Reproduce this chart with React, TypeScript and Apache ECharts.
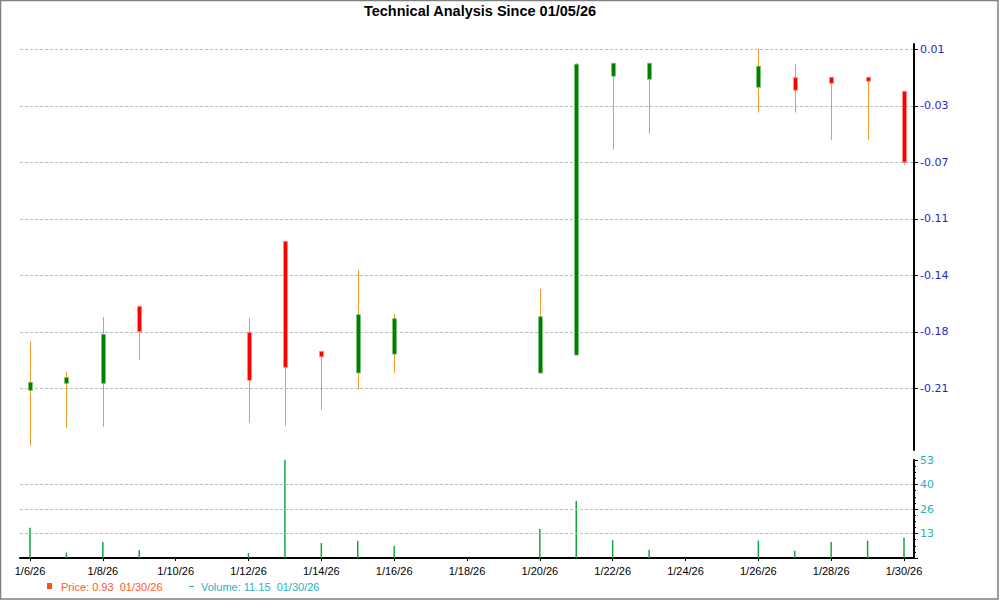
import React, { useEffect, useRef } from "react";
import * as echarts from "echarts";

// ---- data ----
const DATES = [
  "2026-01-06", "2026-01-07", "2026-01-08", "2026-01-09", "2026-01-12", "2026-01-13",
  "2026-01-14", "2026-01-15", "2026-01-16", "2026-01-20", "2026-01-21", "2026-01-22",
  "2026-01-23", "2026-01-26", "2026-01-27", "2026-01-28", "2026-01-29", "2026-01-30",
];
const OPEN = [-0.2113, -0.2068, -0.2068, -0.1568, -0.1737, -0.1146, -0.186, -0.2, -0.1878, -0.2001, -0.1884, -0.0075, -0.0095, -0.0147, -0.0084, -0.0082, -0.0082, -0.0173];
const CLOSE = [-0.2061, -0.2029, -0.175, -0.1733, -0.2048, -0.1964, -0.1895, -0.1622, -0.1648, -0.1635, 0.0003, 0.0009, 0.0009, -0.001, -0.0166, -0.0121, -0.0108, -0.0633];
const LOW = [-0.2473, -0.2356, -0.2349, -0.1917, -0.2323, -0.2343, -0.2239, -0.2109, -0.1999, -0.2001, -0.1884, -0.0552, -0.0448, -0.0311, -0.0311, -0.0487, -0.0487, -0.0649];
const HIGH = [-0.1795, -0.1994, -0.1637, -0.1568, -0.1644, -0.1146, -0.186, -0.1332, -0.1618, -0.1456, 0.0009, 0.0009, 0.0009, 0.01, 0.0005, -0.0082, -0.0082, -0.0173];
const VOLUME = [16.4, 2.9, 8.7, 4.3, 2.7, 53, 8.1, 9.2, 6.5, 15.7, 30.8, 9.7, 4.5, 9.4, 3.9, 8.7, 9.4, 11.15];

const PRICE_TICKS = [0.01, -0.02667, -0.06333, -0.1, -0.13667, -0.17333, -0.21];
const PRICE_TICK_LABELS = ["0.01", "-0.03", "-0.07", "-0.11", "-0.14", "-0.18", "-0.21"];
const VOLUME_TICKS = [13.25, 26.5, 39.75, 53];
const VOLUME_TICK_LABELS = ["13", "26", "40", "53"];
const X_LABEL_DATES = [
  "2026-01-06", "2026-01-08", "2026-01-10", "2026-01-12", "2026-01-14", "2026-01-16",
  "2026-01-18", "2026-01-20", "2026-01-22", "2026-01-24", "2026-01-26", "2026-01-28", "2026-01-30",
];
const TITLE = "Technical Analysis Since 01/05/26";
const PRICE_LEGEND = "Price: 0.93  01/30/26";
const VOLUME_LEGEND = "Volume: 11.15  01/30/26";

const DAY = 86400000;
const toTs = (s: string) => {
  const [y, m, d] = s.split("-").map(Number);
  return Date.UTC(y, m - 1, d);
};
const T0 = toTs(DATES[0]);
const toDay = (s: string) => Math.round((toTs(s) - T0) / DAY);

export default function App() {
  const ref = useRef<HTMLDivElement>(null);
  useEffect(() => {
    if (!ref.current) return;
    const chart = echarts.init(ref.current, null, { renderer: "svg" });
    const xs = DATES.map(toDay);
    const xMin = xs[0] - 0.2746;
    const xMax = xs[xs.length - 1] + 0.2746;
    const xLabelDays = X_LABEL_DATES.map(toDay);
    const candleData = xs.map((x, i) => [x, OPEN[i], CLOSE[i], LOW[i], HIGH[i]]);
    const volData = xs.map((x, i) => [x, VOLUME[i]]);
    const fmtDate = (v: number) => {
      const d = new Date(T0 + Math.round(v) * DAY);
      return `${d.getUTCMonth() + 1}/${d.getUTCDate()}/${String(d.getUTCFullYear()).slice(2)}`;
    };
    const nearest = (ticks: number[], labels: string[], v: number) => {
      let best = 0;
      ticks.forEach((t, i) => {
        if (Math.abs(t - v) < Math.abs(ticks[best] - v)) best = i;
      });
      return labels[best];
    };
    const grid = { color: "#bdbdbd", type: [3, 2] as any, width: 1 };

    chart.setOption({
      animation: false,
      backgroundColor: "#ffffff",
      grid: [
        { left: 20, right: 86, top: 44, bottom: 150 },
        { left: 20, right: 86, top: 460, bottom: 42 },
      ],
      xAxis: [
        { type: "value", gridIndex: 0, min: xMin, max: xMax, show: false, splitLine: { show: false } },
        {
          type: "value", gridIndex: 1, min: xMin, max: xMax,
          axisLine: { show: true, onZero: false, lineStyle: { color: "#000", width: 2 } },
          axisTick: { show: true, length: 3, lineStyle: { color: "#000" }, customValues: xLabelDays },
          axisLabel: {
            customValues: xLabelDays, formatter: fmtDate, color: "#000",
            fontFamily: "Liberation Sans, Arial, sans-serif", fontSize: 11, margin: 7,
          },
          splitLine: { show: false },
        },
      ],
      yAxis: [
        {
          type: "value", gridIndex: 0, position: "right", min: -0.25, max: 0.0134,
          axisLine: { show: true, onZero: false, lineStyle: { color: "#000", width: 2 } },
          axisTick: { show: true, length: 4, lineStyle: { color: "#000" }, customValues: PRICE_TICKS },
          axisLabel: {
            customValues: PRICE_TICKS, formatter: (v: number) => nearest(PRICE_TICKS, PRICE_TICK_LABELS, v),
            color: "#2a1fc4", fontFamily: "DejaVu Sans, Verdana, sans-serif", fontSize: 11, margin: 6,
          },
          splitLine: { show: true, lineStyle: grid },
        },
        {
          type: "value", gridIndex: 1, position: "right", min: 0, max: 53, interval: 13.25,
          axisLine: { show: true, onZero: false, lineStyle: { color: "#000", width: 2 } },
          axisTick: { show: true, length: 4, lineStyle: { color: "#000" } },
          minorTick: { show: true, splitNumber: 4, length: 2, lineStyle: { color: "#000" } },
          axisLabel: {
            formatter: (v: number) => (v === 0 ? "" : nearest(VOLUME_TICKS, VOLUME_TICK_LABELS, v)),
            color: "#1fb3bd", fontFamily: "DejaVu Sans, Verdana, sans-serif", fontSize: 11, margin: 6,
          },
          splitLine: { show: false },
        },
      ],
      series: [
        {
          type: "custom",
          xAxisIndex: 0, yAxisIndex: 0,
          data: candleData,
          encode: { x: 0, y: [1, 2, 3, 4] },
          renderItem: (params: any, api: any) => {
            const x = api.value(0);
            const o = api.value(1), c = api.value(2), l = api.value(3), h = api.value(4);
            const pH = api.coord([x, h]);
            const pL = api.coord([x, l]);
            const pO = api.coord([x, o]);
            const pC = api.coord([x, c]);
            const up = c >= o;
            const top = Math.min(pO[1], pC[1]);
            const hh = Math.max(Math.abs(pO[1] - pC[1]), 2);
            const cx = Math.round(pH[0]) + 0.5;
            return {
              type: "group",
              children: [
                { type: "line", shape: { x1: cx, y1: pH[1], x2: cx, y2: pL[1] }, style: { stroke: "#f29a2e", lineWidth: 1 } },
                {
                  type: "rect", shape: { x: cx - 2, y: top, width: 4, height: hh },
                  style: { fill: up ? "#008000" : "#ff0000", stroke: up ? "#7cc27c" : "#ff8a8a", lineWidth: 0.8 },
                },
              ],
            };
          },
        },
        {
          type: "bar",
          xAxisIndex: 1, yAxisIndex: 1,
          data: volData,
          barWidth: 1.5,
          itemStyle: { color: "#12a83c" },
          markLine: {
            silent: true, symbol: "none", label: { show: false },
            lineStyle: grid,
            data: VOLUME_TICKS.slice(0, 3).map((v) => ({ yAxis: v })),
          },
        },
      ],
      graphic: [
        { type: "rect", shape: { x: 0.5, y: 0.5, width: 997.5, height: 598.5 }, style: { fill: "none", stroke: "#808080", lineWidth: 1.5 }, silent: true },
        { type: "text", x: 480, y: 11, style: { text: TITLE, font: "bold 14.5px 'Liberation Sans', Arial, sans-serif", fill: "#000", textAlign: "center", textVerticalAlign: "middle" } },
        { type: "rect", shape: { x: 47, y: 583, width: 5, height: 6 }, style: { fill: "#ff4d1a" } },
        { type: "text", x: 61, y: 587, style: { text: PRICE_LEGEND, font: "11px 'Liberation Sans', Arial, sans-serif", fill: "#ff5a2a", textVerticalAlign: "middle" } },
        { type: "line", shape: { x1: 189, y1: 586.5, x2: 194, y2: 586.5 }, style: { stroke: "#1fb3bd", lineWidth: 1 } },
        { type: "text", x: 201, y: 587, style: { text: VOLUME_LEGEND, font: "11px 'Liberation Sans', Arial, sans-serif", fill: "#1fb3bd", textVerticalAlign: "middle" } },
      ],
    });
    return () => chart.dispose();
  }, []);
  return <div ref={ref} style={{ position: "absolute", left: 0, top: 0, width: 1000, height: 600 }} />;
}
